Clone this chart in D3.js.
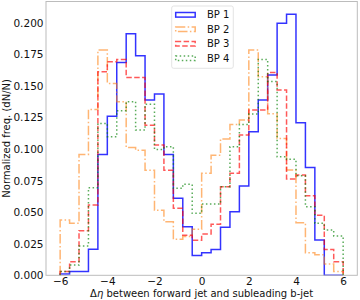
<!DOCTYPE html>
<html>
<head>
<meta charset="utf-8">
<script src="https://cdn.jsdelivr.net/npm/d3@7"></script>
<style>
  html, body { margin: 0; padding: 0; background: #fff; }
  svg { display: block; font-family: "DejaVu Sans", sans-serif; }
</style>
</head>
<body>
<svg id="chart" width="360" height="300"></svg>
<script>
// ---- data ----
const binEdges = [-6.0, -5.6, -5.2, -4.8, -4.4, -4.0, -3.6, -3.2, -2.8, -2.4, -2.0, -1.6, -1.2, -0.8, -0.4,
                  0.0, 0.4, 0.8, 1.2, 1.6, 2.0, 2.4, 2.8, 3.2, 3.6, 4.0, 4.4, 4.8, 5.2, 5.6, 6.0];
const seriesNames = ["BP 1", "BP 2", "BP 3", "BP 4"];
const bp1 = [0.001, 0.003, 0.003, 0.0206, 0.0958, 0.126, 0.1686, 0.1915, 0.174, 0.1389,
             0.1436, 0.0958, 0.061, 0.0385, 0.0156, 0.0179, 0.0205, 0.038, 0.0504, 0.0707,
             0.1138, 0.1389, 0.1587, 0.1997, 0.2068, 0.121, 0.0855, 0.028, 0.0, 0.0];
const bp2 = [0.0438, 0.0412, 0.0958, 0.1315, 0.1786, 0.1521, 0.1376, 0.1012, 0.0992, 0.0833,
             0.0516, 0.0425, 0.0286, 0.0308, 0.0364, 0.0808, 0.0952, 0.1081, 0.1196, 0.123,
             0.1786, 0.1573, 0.128, 0.1085, 0.0834, 0.0417, 0.0179, 0.0163, 0.0089, 0.003];
const bp3 = [0.003, 0.0108, 0.0353, 0.0557, 0.1613, 0.1692, 0.1711, 0.1567, 0.1567, 0.119,
             0.1032, 0.0833, 0.0531, 0.0317, 0.0278, 0.0327, 0.0404, 0.0702, 0.0808, 0.1111,
             0.131, 0.131, 0.1607, 0.1468, 0.0763, 0.0794, 0.0631, 0.0476, 0.0205, 0.0108];
const bp4 = [0.003, 0.0081, 0.0232, 0.0694, 0.1204, 0.1098, 0.1304, 0.1376, 0.1151, 0.1355,
             0.0998, 0.1019, 0.0689, 0.0721, 0.0491, 0.0565, 0.0565, 0.0702, 0.1019, 0.1196,
             0.1278, 0.1711, 0.1535, 0.0939, 0.0919, 0.0788, 0.0544, 0.0412, 0.0359, 0.0311];
const xTicks = [-6, -4, -2, 0, 2, 4, 6];
const yTicks = [0, 0.025, 0.05, 0.075, 0.1, 0.125, 0.15, 0.175, 0.2];
const xLabel = "between forward jet and subleading b-jet";
const yLabel = "Normalized freq. (dN/N)";

// ---- styles ----
const styles = [
  { color: "#0000ff", opacity: 0.8, dash: null },
  { color: "#ff7f0e", opacity: 0.58, dash: "9.6,2.4,1.5,2.4" },
  { color: "#ff0000", opacity: 0.65, dash: "5.5,2.4" },
  { color: "#008000", opacity: 0.65, dash: "1.5,2.5" }
];
const allSeries = [bp1, bp2, bp3, bp4];

const svg = d3.select("#chart");
const m = { left: 46, right: 357.3, top: 1.5, bottom: 275.3 };

const x = d3.scaleLinear().domain([-6.6, 6.6]).range([m.left, m.right]);
const y = d3.scaleLinear().domain([0, 0.217]).range([m.bottom, m.top]);

// histograms
const line = d3.line().x(d => x(d[0])).y(d => y(d[1])).curve(d3.curveStepAfter);
allSeries.forEach((vals, si) => {
  const pts = [[binEdges[0], 0]];
  vals.forEach((v, i) => pts.push([binEdges[i], v]));
  pts.push([binEdges[binEdges.length - 1], 0]);
  const p = svg.append("path")
    .attr("d", line(pts))
    .attr("fill", "none")
    .attr("stroke", styles[si].color)
    .attr("stroke-opacity", styles[si].opacity)
    .attr("stroke-width", 1.5);
  if (styles[si].dash) p.attr("stroke-dasharray", styles[si].dash);
});

// frame
svg.append("rect")
  .attr("x", m.left).attr("y", m.top)
  .attr("width", m.right - m.left).attr("height", m.bottom - m.top)
  .attr("fill", "none").attr("stroke", "#bcbcbc").attr("stroke-width", 1);

// axes
const fmtX = d => (d < 0 ? "\u2212" + Math.abs(d) : String(d));
const xAxis = svg.append("g").attr("transform", `translate(0,${m.bottom})`)
  .call(d3.axisBottom(x).tickValues(xTicks).tickFormat(fmtX).tickSize(0).tickPadding(2));
const yAxis = svg.append("g").attr("transform", `translate(${m.left},0)`)
  .call(d3.axisLeft(y).tickValues(yTicks).tickFormat(d3.format(".3f")).tickSize(0).tickPadding(2.5));
[xAxis, yAxis].forEach(a => {
  a.select(".domain").remove();
  a.selectAll("text").attr("font-size", "10.5px").attr("fill", "#111")
    .attr("font-family", "DejaVu Sans, sans-serif");
});

// x label
const xl = svg.append("text")
  .attr("x", (m.left + m.right) / 2).attr("y", 296.5)
  .attr("text-anchor", "middle").attr("font-size", "10px").attr("fill", "#111");
xl.append("tspan").text("\u0394");
xl.append("tspan").attr("font-style", "italic").text("\u03B7");
xl.append("tspan").text(" " + xLabel);

// y label
svg.append("text")
  .attr("transform", `translate(9.5,${(m.top + m.bottom) / 2}) rotate(-90)`)
  .attr("text-anchor", "middle").attr("font-size", "10px").attr("fill", "#111")
  .text(yLabel);

// legend
const lg = svg.append("g");
lg.append("rect").attr("x", 171.7).attr("y", 6).attr("width", 61.6).attr("height", 62.3)
  .attr("rx", 2).attr("fill", "#fff").attr("fill-opacity", 0.8)
  .attr("stroke", "#dcdcdc").attr("stroke-width", 0.8);
const rowY = d3.scalePoint().domain(seriesNames).range([14.8, 58.3]);
seriesNames.forEach((name, i) => {
  const cy = rowY(name);
  const r = lg.append("rect").attr("x", 175.7).attr("y", cy - 2.3)
    .attr("width", 19.5).attr("height", 4.6)
    .attr("fill", "none").attr("stroke", styles[i].color)
    .attr("stroke-opacity", styles[i].opacity).attr("stroke-width", 1.5);
  if (styles[i].dash) r.attr("stroke-dasharray", styles[i].dash);
  lg.append("text").attr("x", 207).attr("y", cy).attr("dy", "0.36em")
    .attr("font-size", "10px").attr("fill", "#111").text(name);
});
</script>
</body>
</html>
